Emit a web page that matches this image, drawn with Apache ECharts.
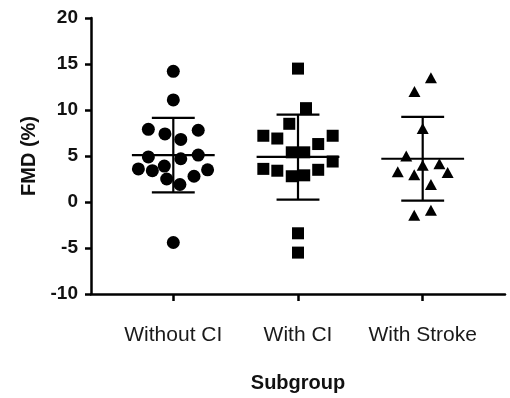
<!DOCTYPE html>
<html>
<head>
<meta charset="utf-8">
<script src="https://cdn.jsdelivr.net/npm/echarts@6/dist/echarts.min.js"></script>
<style>html,body{margin:0;padding:0;background:#fff}#c{width:510px;height:398px}</style>
</head>
<body>
<div id="c"></div>
<script>
var categories = ['Without CI', 'With CI', 'With Stroke'];
var yTicks = [-10, -5, 0, 5, 10, 15, 20];

// Individual FMD values (%) per subgroup
var withoutCI = [14.2, 11.1, 7.9, 7.4, 6.8, 7.8, 4.9, 4.7, 5.1, 3.6, 3.4, 3.9, 2.5, 1.9, 2.8, 3.5, -4.4];
var withoutCIJitter = [0, 0, -0.2, -0.067, 0.06, 0.2, -0.2, 0.06, 0.2, -0.28, -0.168, -0.072, -0.053, 0.053, 0.166, 0.275, 0];

var withCI = [14.5, 10.2, 8.5, 7.2, 6.9, 6.3, 7.2, 5.4, 5.4, 4.4, 3.6, 3.4, 2.8, 2.9, 3.5, -3.4, -5.5];
var withCIJitter = [0, 0.064, -0.07, -0.278, -0.166, 0.162, 0.278, -0.05, 0.05, 0.278, -0.278, -0.166, -0.05, 0.05, 0.162, 0, 0];

var withStroke = [13.5, 12.0, 8.0, 5.0, 4.0, 4.15, 3.3, 2.95, 3.2, 1.9, -1.45, -0.9];
var withStrokeJitter = [0.066, -0.066, 0, -0.132, 0, 0.134, -0.2, -0.068, 0.2, 0.066, -0.068, 0.066];

// Mean and mean ± SD per subgroup
var means = [5.1, 4.9, 4.7];
var sdUpper = [9.15, 9.5, 9.25];
var sdLower = [1.05, 0.25, 0.15];

function pts(vals, jit, g) {
  return vals.map(function (v, i) { return [g + 1 + jit[i], v]; });
}

var font = 'Liberation Sans, Arial, Helvetica, sans-serif';
var chart = echarts.init(document.getElementById('c'), null, {renderer: 'canvas'});

var errData = means.map(function (m, i) { return [i + 1, m, sdUpper[i], sdLower[i]]; });
var markStyle = {color: '#000', opacity: 1};

chart.setOption({
  animation: false,
  backgroundColor: '#fff',
  grid: {left: 91, right: 5, top: 18, bottom: 100, containLabel: false},
  xAxis: {
    type: 'value', min: 0.34, max: 3.66,
    name: 'Subgroup', nameLocation: 'middle', nameGap: 79,
    nameTextStyle: {fontFamily: font, fontSize: 20, fontWeight: 'bold', color: '#111'},
    axisLine: {show: true, onZero: false, lineStyle: {color: '#000', width: 2.5}},
    axisTick: {show: true, length: 7, lineStyle: {color: '#000', width: 2.5}, customValues: [1, 2, 3]},
    axisLabel: {
      customValues: [1, 2, 3], margin: 31,
      fontFamily: font, fontSize: 21, color: '#1a1a1a',
      formatter: function (v) { return categories[Math.round(v) - 1] || ''; }
    },
    splitLine: {show: false}
  },
  yAxis: {
    type: 'value', min: yTicks[0], max: yTicks[yTicks.length - 1], interval: 5,
    name: 'FMD (%)', nameLocation: 'middle', nameGap: 52, nameRotate: 90,
    nameTextStyle: {fontFamily: font, fontSize: 20, fontWeight: 'bold', color: '#111'},
    axisLine: {show: true, lineStyle: {color: '#000', width: 2.5}},
    axisTick: {show: true, length: 6, lineStyle: {color: '#000', width: 2.5}},
    axisLabel: {margin: 13, fontFamily: font, fontSize: 19, fontWeight: 'bold', color: '#111'},
    splitLine: {show: false}
  },
  series: [
    {type: 'scatter', data: pts(withoutCI, withoutCIJitter, 0), symbol: 'circle', symbolSize: 13,
      itemStyle: markStyle, z: 3},
    {type: 'scatter', data: pts(withCI, withCIJitter, 1), symbol: 'rect', symbolSize: 12,
      itemStyle: markStyle, z: 3},
    {type: 'scatter', data: pts(withStroke, withStrokeJitter, 2), symbol: 'triangle', symbolSize: [12, 11],
      itemStyle: markStyle, z: 3},
    {
      type: 'custom', z: 5, data: errData,
      renderItem: function (params, api) {
        var x = api.value(0);
        var pm = api.coord([x, api.value(1)]);
        var pu = api.coord([x, api.value(2)]);
        var pl = api.coord([x, api.value(3)]);
        var unit = api.size([1, 0])[0];
        var mh = unit * 0.332, ch = unit * 0.172;
        var st = {stroke: '#000', lineWidth: 2.2};
        return {
          type: 'group',
          children: [
            {type: 'line', shape: {x1: pu[0], y1: pu[1], x2: pl[0], y2: pl[1]}, style: st},
            {type: 'line', shape: {x1: pm[0] - mh, y1: pm[1], x2: pm[0] + mh, y2: pm[1]}, style: st},
            {type: 'line', shape: {x1: pu[0] - ch, y1: pu[1], x2: pu[0] + ch, y2: pu[1]}, style: st},
            {type: 'line', shape: {x1: pl[0] - ch, y1: pl[1], x2: pl[0] + ch, y2: pl[1]}, style: st}
          ]
        };
      }
    }
  ]
});
</script>
</body>
</html>
